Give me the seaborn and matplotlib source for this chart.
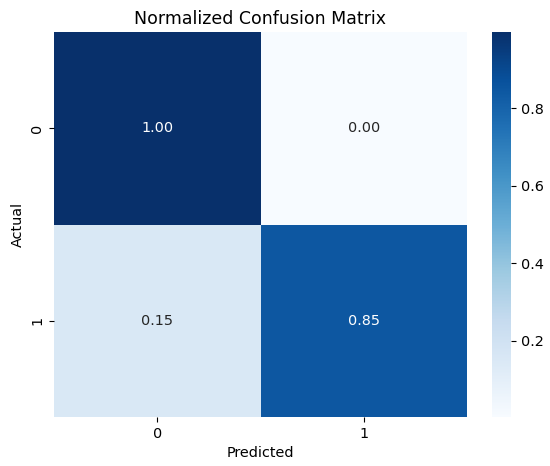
import numpy as np
import matplotlib
matplotlib.use("Agg")
import matplotlib.pyplot as plt
import seaborn as sns

labels = ["0", "1"]
row_0 = [0.997, 0.003]
row_1 = [0.152, 0.848]

cm = np.array([row_0, row_1])

plt.rcParams["font.size"] = 10.4
fig = plt.figure(figsize=(5.5, 4.66), dpi=100)
ax = fig.add_axes([54 / 550, 1 - 417 / 466, (467 - 54) / 550, (417 - 32) / 466])
cax = fig.add_axes([492 / 550, 1 - 417 / 466, (511 - 492) / 550, (417 - 32) / 466])
sns.heatmap(cm, annot=True, fmt=".2f", cmap="Blues",
            xticklabels=labels, yticklabels=labels, ax=ax, cbar_ax=cax)
ax.set_title("Normalized Confusion Matrix", fontsize=12.5)
ax.set_xlabel("Predicted")
ax.set_ylabel("Actual")
fig.savefig("out.png", dpi=100)
